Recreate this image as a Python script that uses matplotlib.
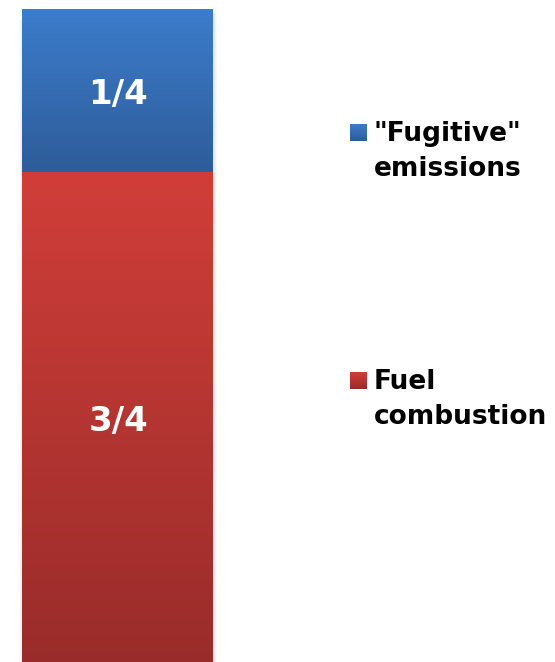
import matplotlib
matplotlib.use("Agg")
import matplotlib.pyplot as plt
import numpy as np
from matplotlib.colors import LinearSegmentedColormap
from matplotlib.patches import Rectangle

categories = ["Fuel\ncombustion", "\"Fugitive\"\nemissions"]
values = [0.75, 0.25]
labels = ["3/4", "1/4"]
top_colors = ["#D13E39", "#3C7DCC"]
bottom_colors = ["#992C2A", "#2E5C99"]

W, H = 555, 662
fig = plt.figure(figsize=(W / 100, H / 100), dpi=100)
ax = fig.add_axes([22 / W, 0, (213 - 22) / W, (662 - 9) / H])
ax.set_xlim(-0.5, 0.5)
ax.set_ylim(0, 1)
ax.axis("off")

bottom = 0
for v, lab, tc, bc in zip(values, labels, top_colors, bottom_colors):
    bars = ax.bar(0, v, width=1.0, bottom=bottom, color="none", edgecolor="none")
    patch = bars[0]
    cmap = LinearSegmentedColormap.from_list("g", [bc, tc])
    grad = np.linspace(0, 1, 256).reshape(-1, 1)
    im = ax.imshow(grad, extent=[-0.5, 0.5, bottom, bottom + v], origin="lower",
                   aspect="auto", cmap=cmap, zorder=2)
    im.set_clip_path(patch)
    ax.annotate(lab, xy=(0, bottom + v / 2), xytext=(1, -13.5), textcoords="offset pixels",
                ha="center", va="baseline", color="white", fontsize=24.5,
                fontweight="bold", zorder=3)
    bottom += v

# soft shadow on bar edges
for i, a in enumerate([0.18, 0.10, 0.05]):
    fig.patches.append(Rectangle(((213 + i * 1.5) / W, 0), 1.5 / W, (662 - 14) / H,
                                 transform=fig.transFigure, color="gray", alpha=a, lw=0))
    fig.patches.append(Rectangle(((22 - (i + 1) * 1.0) / W, 0), 1.0 / W, (662 - 20) / H,
                                 transform=fig.transFigure, color="gray", alpha=a * 0.6, lw=0))

# legend
baselines = [(389, 424), (141, 176)]
for cat, tc, bc, (b1, b2) in zip(categories, top_colors, bottom_colors, baselines):
    sq = 17
    x0, y0 = 350, b1 - sq
    cmap = LinearSegmentedColormap.from_list("g", [bc, tc])
    lax = fig.add_axes([x0 / W, (H - y0 - sq) / H, sq / W, sq / H])
    lax.imshow(np.linspace(0, 1, 64).reshape(-1, 1), origin="lower", aspect="auto", cmap=cmap)
    lax.axis("off")
    line1, line2 = cat.split("\n")
    for txt, b in ((line1, b1), (line2, b2)):
        fig.text(374 / W, (H - b) / H, txt, ha="left", va="baseline", fontsize=19,
                 fontweight="bold", color="black")

fig.savefig("out.png", dpi=100)
